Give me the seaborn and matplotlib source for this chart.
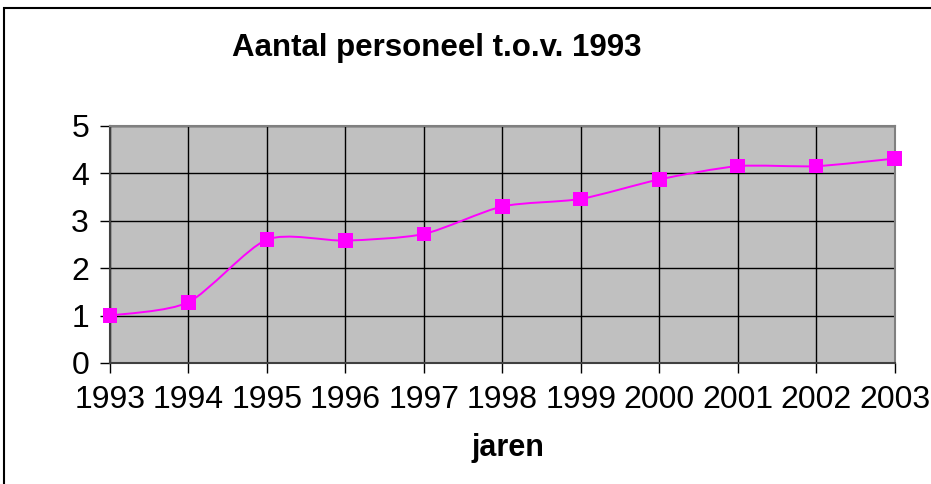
import matplotlib
matplotlib.use("Agg")
import matplotlib.pyplot as plt
import numpy as np
import pandas as pd
import seaborn as sns
from matplotlib.patches import PathPatch, Rectangle
from matplotlib.path import Path

jaren = [1993, 1994, 1995, 1996, 1997, 1998, 1999, 2000, 2001, 2002, 2003]
personeel = [1.0, 1.28, 2.60, 2.58, 2.72, 3.30, 3.46, 3.87, 4.15, 4.15, 4.31]
y_ticks = [0, 1, 2, 3, 4, 5]


def smooth_path(x, y, k=1 / 8):
    # Excel-achtige afvlakking: Catmull-Rom omgezet naar Bezier-segmenten
    x = np.asarray(x, dtype=float)
    y = np.asarray(y, dtype=float)
    verts = [(x[0], y[0])]
    codes = [Path.MOVETO]
    n = len(x)
    for i in range(n - 1):
        x0, y0 = (x[i - 1], y[i - 1]) if i > 0 else (x[i], y[i])
        x3, y3 = (x[i + 2], y[i + 2]) if i + 2 < n else (x[i + 1], y[i + 1])
        c1 = (x[i] + (x[i + 1] - x0) * k, y[i] + (y[i + 1] - y0) * k)
        c2 = (x[i + 1] - (x3 - x[i]) * k, y[i + 1] - (y3 - y[i]) * k)
        verts += [c1, c2, (x[i + 1], y[i + 1])]
        codes += [Path.CURVE4] * 3
    return Path(verts, codes)


df = pd.DataFrame({"jaren": jaren, "personeel": personeel})

sns.set_style("white", {"axes.facecolor": "#C0C0C0", "text.color": "black",
                        "xtick.color": "black", "ytick.color": "black"})
plt.rcParams["font.family"] = ["Liberation Sans", "DejaVu Sans"]

fig = plt.figure(figsize=(9.31, 4.84), dpi=100)
ax = fig.add_axes([0.118, 0.25, 0.843, 0.49])

ax.add_patch(
    PathPatch(smooth_path(jaren, personeel), facecolor="none",
              edgecolor="#FF00FF", linewidth=1.4, zorder=3)
)
sns.scatterplot(data=df, x="jaren", y="personeel", marker="s", s=110,
                color="#FF00FF", edgecolor="none", ax=ax, zorder=4, clip_on=False)

ax.set_xlim(jaren[0], jaren[-1])
ax.set_ylim(0, 5)
ax.set_xticks(jaren)
ax.set_xticklabels([str(j) for j in jaren])
ax.set_yticks(y_ticks)
ax.grid(True, color="black", linewidth=1.0)
ax.set_axisbelow(True)

ax.tick_params(axis="both", labelsize=23, length=7, width=1, color="black",
               labelcolor="black", direction="out", pad=8, bottom=True, left=True)
ax.tick_params(axis="x", pad=9)

for side in ["top", "right"]:
    ax.spines[side].set_color("#808080")
    ax.spines[side].set_linewidth(1.5)
for side in ["bottom", "left"]:
    ax.spines[side].set_color("#404040")
    ax.spines[side].set_linewidth(1.5)

ax.set_xlabel("")
ax.set_ylabel("")

fig.text(437 / 931, 1 - 56 / 484, "Aantal personeel t.o.v. 1993", fontsize=22.5,
         fontweight="bold", ha="center", va="baseline", color="black")
fig.text(508 / 931, 1 - 456 / 484, "jaren", fontsize=22,
         fontweight="bold", ha="center", va="baseline", color="black")

fig.patches.append(
    Rectangle((4 / 931, -0.2), 1.2, 1.2 - 8 / 484, transform=fig.transFigure,
              facecolor="none", edgecolor="black", linewidth=1.5)
)

fig.savefig("out.png", dpi=100)
